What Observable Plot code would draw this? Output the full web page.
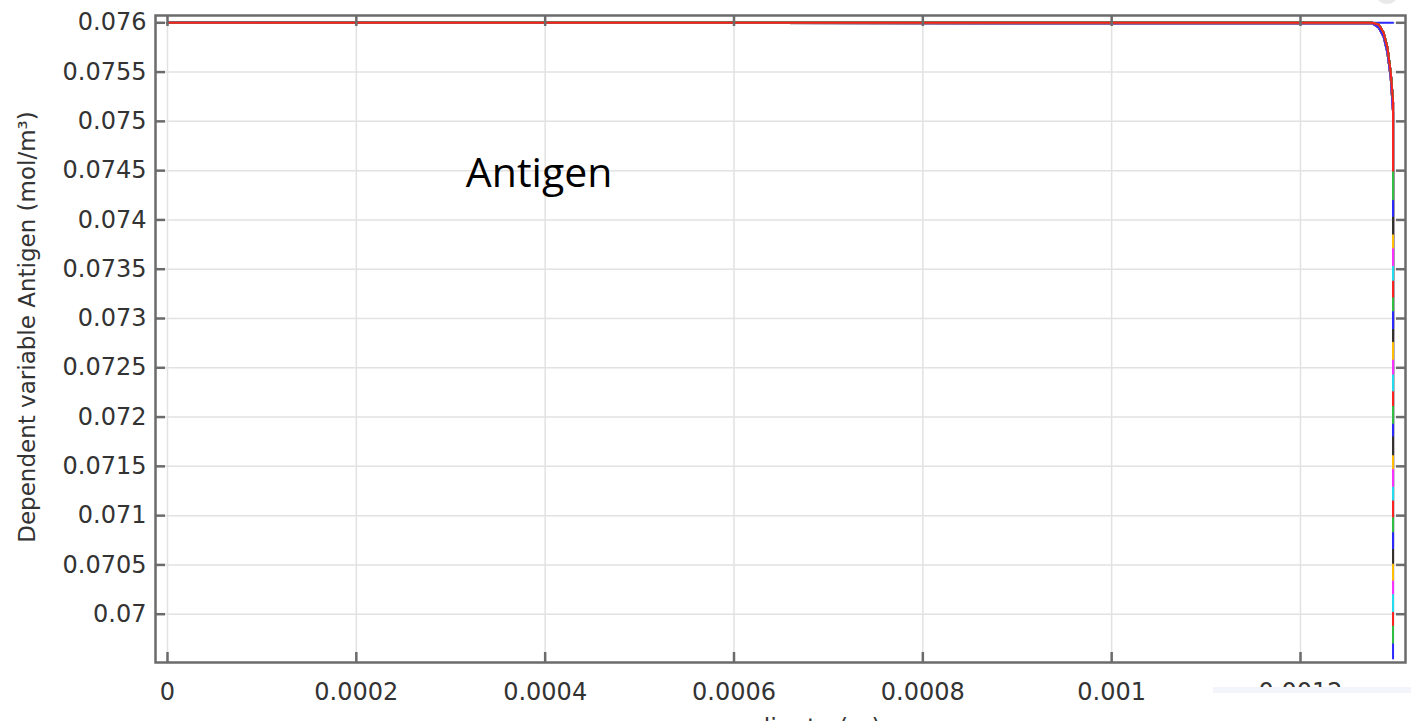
<!DOCTYPE html>
<html>
<head>
<meta charset="utf-8">
<script src="https://cdn.jsdelivr.net/npm/d3@7"></script>
<script src="https://cdn.jsdelivr.net/npm/@observablehq/plot@0.6"></script>
<style>
  html, body { margin: 0; padding: 0; background: #ffffff; width: 1411px; height: 721px; overflow: hidden; }
  #wrap { position: relative; width: 1411px; height: 721px; overflow: hidden; }
  #cover { position: absolute; left: 1213px; top: 687px; width: 198px; height: 40px; background: #ffffff; border-top: 6px solid #f3f5fb; }
  #knob { position: absolute; left: 1375px; top: -20px; width: 24px; height: 24px; border-radius: 50%; background: #e9e9e9; }
</style>
</head>
<body>
<div id="wrap"></div>
<script>
// ---- axis ticks ----
const xTicks = [0, 0.0002, 0.0004, 0.0006, 0.0008, 0.001, 0.0012];
const xTickLabels = ["0", "0.0002", "0.0004", "0.0006", "0.0008", "0.001", "0.0012"];
const yTicks = [0.07, 0.0705, 0.071, 0.0715, 0.072, 0.0725, 0.073, 0.0735, 0.074, 0.0745, 0.075, 0.0755, 0.076];
const yTickLabels = ["0.07", "0.0705", "0.071", "0.0715", "0.072", "0.0725", "0.073", "0.0735", "0.074", "0.0745", "0.075", "0.0755", "0.076"];

// ---- titles / annotation ----
const xTitle = "x-coordinate (m)";
const yTitle = "Dependent variable Antigen (mol/m³)";
const annotations = [{text: "Antigen", x: 0.000316, y: 0.07433}];

// ---- curves (time steps of the Antigen concentration) ----
// initial, undepleted profile
const flatX = [0, 0.001298];
const flatY = [0.076, 0.076];
// shared x positions of the depleted profiles (steep drop at the right boundary)
const profileX = [0, 0.001276, 0.001283, 0.001288, 0.001292, 0.0012955, 0.001298, 0.001298];
const profileLateY = [0.076, 0.076, 0.07598, 0.0759, 0.07575, 0.0755, 0.0752];
const profileEarlyY = [0.076, 0.075995, 0.07595, 0.07586, 0.0757, 0.07545, 0.0751];
// boundary (minimum) value reached by each time step, deepest first
const boundaryMin = [
  0.06955, 0.06971, 0.06989, 0.07003, 0.07021, 0.07035, 0.07052, 0.07067,
  0.07084, 0.07099, 0.07116, 0.07130, 0.07148, 0.07162, 0.07181, 0.07194,
  0.07212, 0.07227, 0.07244, 0.07259, 0.07277, 0.07290, 0.07308, 0.07322,
  0.07339, 0.07354, 0.07372, 0.07386, 0.07404, 0.07421, 0.07450
];
const palette = ["#2b2bff", "#33c040", "#ff2020", "#20e0f0", "#ff30ff", "#ffc000", "#303030"];

const flatRows = flatX.map((x, j) => ({x, y: flatY[j]}));
const seriesRows = boundaryMin.map((m, i) => {
  const upper = i % 3 === 1 ? profileEarlyY : profileLateY;
  return profileX.map((x, j) => ({x, y: j < upper.length ? upper[j] : m}));
});

const tickColor = "#6b6b6b";
const textColor = "#333333";

const marks = [
  Plot.gridX(xTicks, {stroke: "#e2e2e2", strokeOpacity: 1, strokeWidth: 1.5}),
  Plot.gridY(yTicks, {stroke: "#e2e2e2", strokeOpacity: 1, strokeWidth: 1.5}),
  Plot.line(flatRows, {x: "x", y: "y", stroke: "#2b2bff", strokeWidth: 2})
];
seriesRows.forEach((rows, i) => {
  marks.push(Plot.line(rows, {x: "x", y: "y", stroke: palette[i % palette.length], strokeWidth: 2}));
});
marks.push(
  Plot.frame({stroke: tickColor, strokeWidth: 2.5}),
  // inward ticks on all four sides
  Plot.axisX(xTicks, {anchor: "bottom", tickSize: -10, fill: "none", stroke: tickColor, strokeWidth: 2.5, label: null}),
  Plot.axisX(xTicks, {anchor: "top", tickSize: -10, fill: "none", stroke: tickColor, strokeWidth: 2.5, label: null}),
  Plot.axisY(yTicks, {anchor: "left", tickSize: -10, fill: "none", stroke: tickColor, strokeWidth: 2.5, label: null}),
  Plot.axisY(yTicks, {anchor: "right", tickSize: -10, fill: "none", stroke: tickColor, strokeWidth: 2.5, label: null}),
  // tick labels
  Plot.axisX(xTicks, {anchor: "bottom", tickSize: 0, tickPadding: 20, fontSize: 24, fill: textColor, label: null,
    tickFormat: d => xTickLabels[xTicks.indexOf(d)]}),
  Plot.axisY(yTicks, {anchor: "left", tickSize: 0, tickPadding: 9, fontSize: 24, fill: textColor, label: null,
    tickFormat: d => yTickLabels[yTicks.indexOf(d)]}),
  // axis titles
  Plot.text([xTitle], {text: d => d, frameAnchor: "bottom", textAnchor: "middle", lineAnchor: "bottom",
    dy: 73, fontSize: 24, fill: textColor}),
  Plot.text([yTitle], {text: d => d, frameAnchor: "left", textAnchor: "middle", lineAnchor: "bottom",
    rotate: -90, dx: -121, dy: -12, fontSize: 23, fill: textColor}),
  // annotation
  Plot.text(annotations, {x: "x", y: "y", text: "text", textAnchor: "start", lineAnchor: "bottom",
    fontSize: 41, fill: "#000000", fontFamily: "Open Sans"})
);

const chart = Plot.plot({
  width: 1411,
  height: 740,
  marginLeft: 155,
  marginRight: 6,
  marginTop: 15,
  marginBottom: 78,
  x: {domain: [-0.0000127, 0.0013112]},
  y: {domain: [0.06951, 0.076074]},
  style: {fontFamily: "DejaVu Sans", background: "#ffffff", overflow: "visible"},
  marks
});
const wrap = document.getElementById("wrap");
wrap.appendChild(chart);
const cover = document.createElement("div"); cover.id = "cover"; wrap.appendChild(cover);
const knob = document.createElement("div"); knob.id = "knob"; wrap.appendChild(knob);
</script>
</body>
</html>
